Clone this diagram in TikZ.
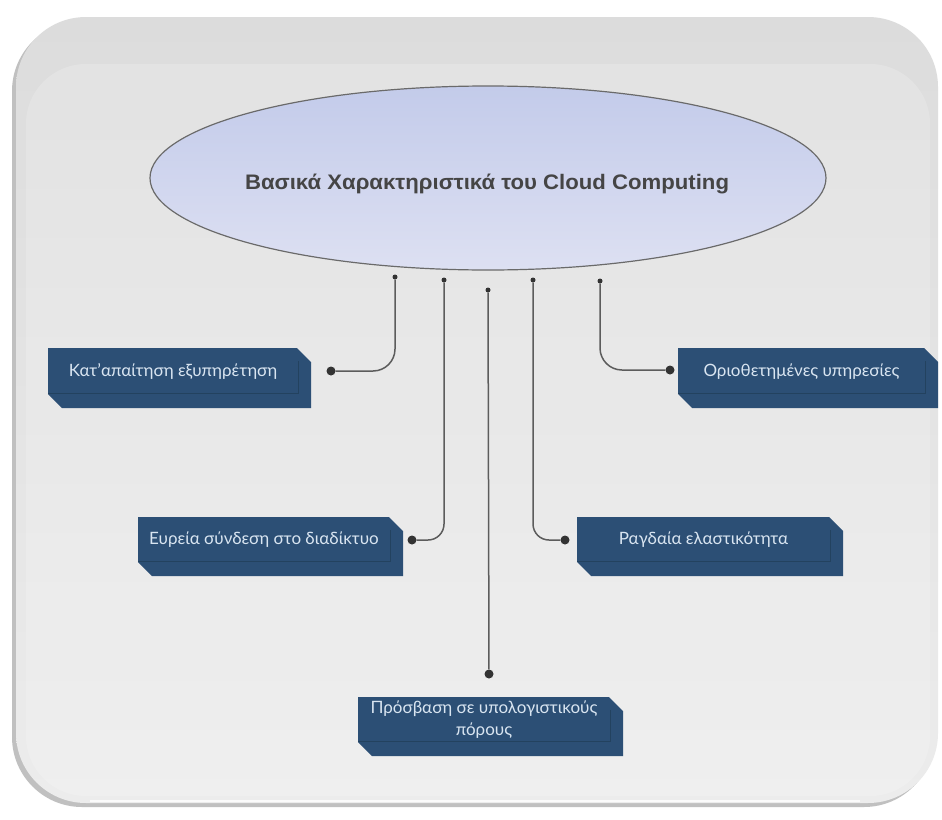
\documentclass[tikz,border=0pt]{standalone}
\usepackage{fontspec}
\setmainfont{Liberation Sans}
\newfontfamily\boxfont{Lato}
\usetikzlibrary{shadows,shapes.geometric}
\definecolor{boxfill}{HTML}{2C4F75}
\definecolor{boxedge}{HTML}{23425F}
\definecolor{boxtxt}{HTML}{D9E5F1}
\definecolor{ellTop}{HTML}{C3CBEA}
\definecolor{ellBot}{HTML}{DDE0F2}
\definecolor{ellLine}{HTML}{6A6A6A}
\definecolor{connc}{HTML}{5C5C5C}
\definecolor{dotc}{HTML}{333333}
\definecolor{frameTop}{HTML}{DCDCDC}
\definecolor{frameMid}{HTML}{F6F6F6}
\definecolor{frameBot}{HTML}{ECECEC}
\definecolor{titlec}{HTML}{454545}
\newcommand\bevbox[6]{%
  \fill[boxfill] (#2,#3) -- ({#2+#4-14},#3) -- ({#2+#4},{#3+14}) -- ({#2+#4},{#3+#5})
    -- ({#2+14},{#3+#5}) -- (#2,{#3+#5-14}) -- cycle;
  \draw[boxedge, line width=0.8pt] (#2,{#3+#5-15}) -- ({#2+#4-13},{#3+#5-15}) -- ({#2+#4-13},{#3+13});
  \node[boxtext] (#1) at ({#2+(#4-13)/2},{#3+(#5-15)/2+1}) {#6};
}
\tikzset{
  boxtext/.style={text=boxtxt, font=\boxfont\fontsize{17}{22}\selectfont, align=center, inner sep=0pt},
  conn/.style={draw=connc, line width=1.5pt},
  bigdot/.style={circle, fill=dotc, inner sep=0pt, minimum size=9pt},
  smalldot/.style={circle, fill=dotc, inner sep=0pt, minimum size=5pt},
}
\begin{document}
\begin{tikzpicture}[x=1pt,y=-1pt]
\useasboundingbox (0,0) rectangle (942,819);
\fill[white] (0,0) rectangle (942,819);
% frame
\path[rounded corners=70pt,
  drop shadow={shadow xshift=-4pt, shadow yshift=-4pt, opacity=.35, fill=black!70},
  top color=frameTop, middle color=frameMid, bottom color=frameBot]
  (16,17) rectangle (938,803);
\fill[white, opacity=0.18, rounded corners=60pt] (26,64) rectangle (930,796);
\draw[white, line width=1.5pt, opacity=.8] (90,801) -- (860,801);
% central ellipse
\node[ellipse, draw=ellLine, line width=1.2pt, top color=ellTop, bottom color=ellBot,
  minimum width=676pt, minimum height=184pt, inner sep=0pt] (core) at (488,178) {};
\node[text=titlec, font=\bfseries\fontsize{21}{24}\selectfont, inner sep=0pt] (title) at (487,184)
  {\scalebox{1.055}[1]{Βασικά Χαρακτηριστικά του Cloud Computing}};
% boxes
\bevbox{b1}{48}{348}{263}{60}{Κατ’απαίτηση εξυπηρέτηση}
\bevbox{b2}{678}{348}{260}{60}{Οριοθετημένες υπηρεσίες}
\bevbox{b3}{138}{517}{265}{59}{Ευρεία σύνδεση στο διαδίκτυο}
\bevbox{b4}{577}{517}{266}{59}{Ραγδαία ελαστικότητα}
\bevbox{b5}{358}{697}{265}{59}{Πρόσβαση σε υπολογιστικούς\\πόρους}
% top dots
\node[smalldot] (t1) at (395,277) {};
\node[smalldot] (t2) at (444,280) {};
\node[smalldot] (t3) at (488,290) {};
\node[smalldot] (t4) at (533,280) {};
\node[smalldot] (t5) at (600,281) {};
% end dots
\node[bigdot] (d1) at (331,371) {};
\node[bigdot] (d2) at (670,370) {};
\node[bigdot] (d3) at (412,540) {};
\node[bigdot] (d4) at (565,540) {};
\node[bigdot] (d5) at (489,674) {};
% connectors
\draw[conn, rounded corners=22pt] (t1) |- (d1);
\draw[conn, rounded corners=22pt] (t5) |- (d2);
\draw[conn, rounded corners=16pt] (t2) |- (d3);
\draw[conn, rounded corners=16pt] (t4) |- (d4);
\draw[conn] (t3) -- (d5);
\end{tikzpicture}
\end{document}
